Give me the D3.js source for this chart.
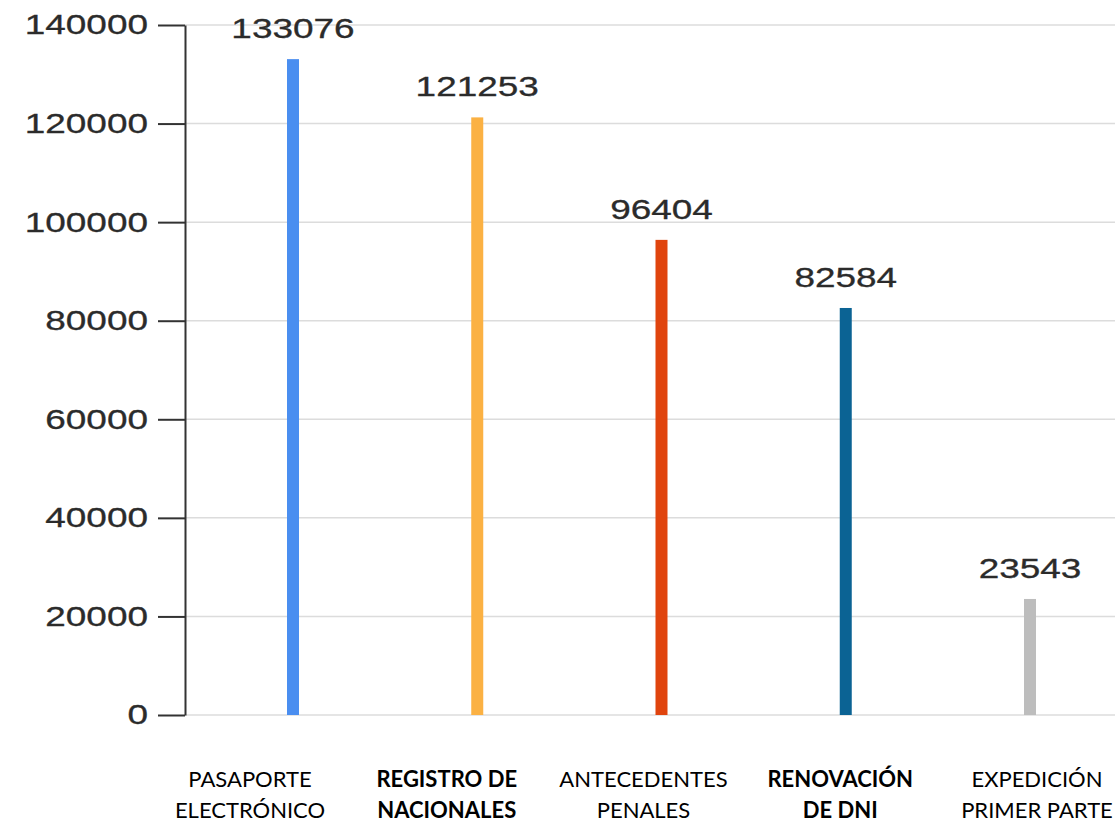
<!DOCTYPE html>
<html>
<head>
<meta charset="utf-8">
<script src="https://cdn.jsdelivr.net/npm/d3@7"></script>
<style>
  body { margin: 0; background: #fff; }
  svg { display: block; }
</style>
</head>
<body>
<div id="chart"></div>
<script>
// Datos
var categorias = ["PASAPORTE ELECTRÓNICO", "REGISTRO DE NACIONALES", "ANTECEDENTES PENALES", "RENOVACIÓN DE DNI", "EXPEDICIÓN PRIMER PARTE"];
var lineas_etiqueta = [["PASAPORTE", "ELECTRÓNICO"], ["REGISTRO DE", "NACIONALES"], ["ANTECEDENTES", "PENALES"], ["RENOVACIÓN", "DE DNI"], ["EXPEDICIÓN", "PRIMER PARTE"]];
var negrita = [false, true, false, true, false];
var valores = [133076, 121253, 96404, 82584, 23543];
var colores = ["#4a8ef0", "#fbb143", "#e0440e", "#0b6394", "#bdbdbd"];
var ticks_y = [0, 20000, 40000, 60000, 80000, 100000, 120000, 140000];

function grafico(container, props) {
    // Margen y dimensiones
    var margin = {top: 25, right: 0, bottom: 108, left: 185};
    var width = props.width - margin.left - margin.right;
    var height = props.height - margin.top - margin.bottom;
    var estirar = 1.32; // el original está ensanchado en horizontal

    var svg = container.append('svg')
        .attr('width', props.width)
        .attr('height', props.height);

    var g = svg.append('g')
        .attr('transform', 'translate(' + margin.left + ',' + margin.top + ')');

    var yScale = d3.scaleLinear()
        .domain([0, 140000])
        .range([height, 0]);

    var xScale = d3.scalePoint()
        .domain(categorias)
        .range([108, 845]);

    // escala aparte para las etiquetas, que están desplazadas respecto a las barras
    var xEtiquetas = d3.scalePoint()
        .domain(categorias)
        .range([65, 852]);

    // Rejilla
    g.selectAll('.grid')
        .data(ticks_y)
        .enter().append('line')
        .attr('class', 'grid')
        .attr('x1', 0)
        .attr('x2', width)
        .attr('y1', d => yScale(d))
        .attr('y2', d => yScale(d))
        .attr('stroke', '#dcdcdc')
        .attr('stroke-width', 1.5);

    // Eje Y
    var yAxis = d3.axisLeft(yScale)
        .tickValues(ticks_y)
        .tickSize(27)
        .tickSizeOuter(0)
        .tickFormat(d3.format('d'));
    var yAxisG = g.append('g').call(yAxis);
    yAxisG.select('.domain').attr('stroke', '#333').attr('stroke-width', 2);
    yAxisG.selectAll('.tick line').attr('stroke', '#333').attr('stroke-width', 2);
    yAxisG.selectAll('.tick text')
        .attr('x', 0)
        .attr('transform', 'translate(-37,0) scale(' + estirar + ',1)')
        .attr('fill', '#2b2b2b')
        .attr('stroke', '#2b2b2b')
        .attr('stroke-width', 0.3)
        .style('font-family', '"Liberation Sans", Arial, sans-serif')
        .style('font-size', '28px');

    // Barras
    g.selectAll('.barra')
        .data(valores)
        .enter().append('rect')
        .attr('class', 'barra')
        .attr('x', (d, i) => xScale(categorias[i]) - 6)
        .attr('y', d => yScale(d))
        .attr('width', 12)
        .attr('height', d => height - yScale(d))
        .attr('fill', (d, i) => colores[i]);

    // Valores sobre las barras
    g.selectAll('.valor')
        .data(valores)
        .enter().append('text')
        .attr('class', 'valor')
        .attr('transform', (d, i) => 'translate(' + xScale(categorias[i]) + ',' + (yScale(d) - 21) + ') scale(' + estirar + ',1)')
        .attr('text-anchor', 'middle')
        .attr('fill', '#2b2b2b')
        .attr('stroke', '#2b2b2b')
        .attr('stroke-width', 0.3)
        .style('font-family', '"Liberation Sans", Arial, sans-serif')
        .style('font-size', '28px')
        .text(d => d);

    // Etiquetas de categoría
    var etiquetas = g.selectAll('.etiqueta')
        .data(categorias)
        .enter().append('text')
        .attr('class', 'etiqueta')
        .attr('x', d => xEtiquetas(d))
        .attr('y', height + 72)
        .attr('text-anchor', 'middle')
        .attr('fill', '#000')
        .style('font-family', 'Lato, "Open Sans", sans-serif')
        .style('font-size', '22px')
        .style('font-weight', (d, i) => negrita[i] ? 'bold' : 'normal');

    etiquetas.selectAll('tspan')
        .data((d, i) => lineas_etiqueta[i].map(t => ({t: t, x: xEtiquetas(d)})))
        .enter().append('tspan')
        .attr('x', d => d.x)
        .attr('dy', (d, j) => j === 0 ? 0 : 31)
        .text(d => d.t);
}

grafico(d3.select('#chart'), {width: 1115, height: 823});
</script>
</body>
</html>
